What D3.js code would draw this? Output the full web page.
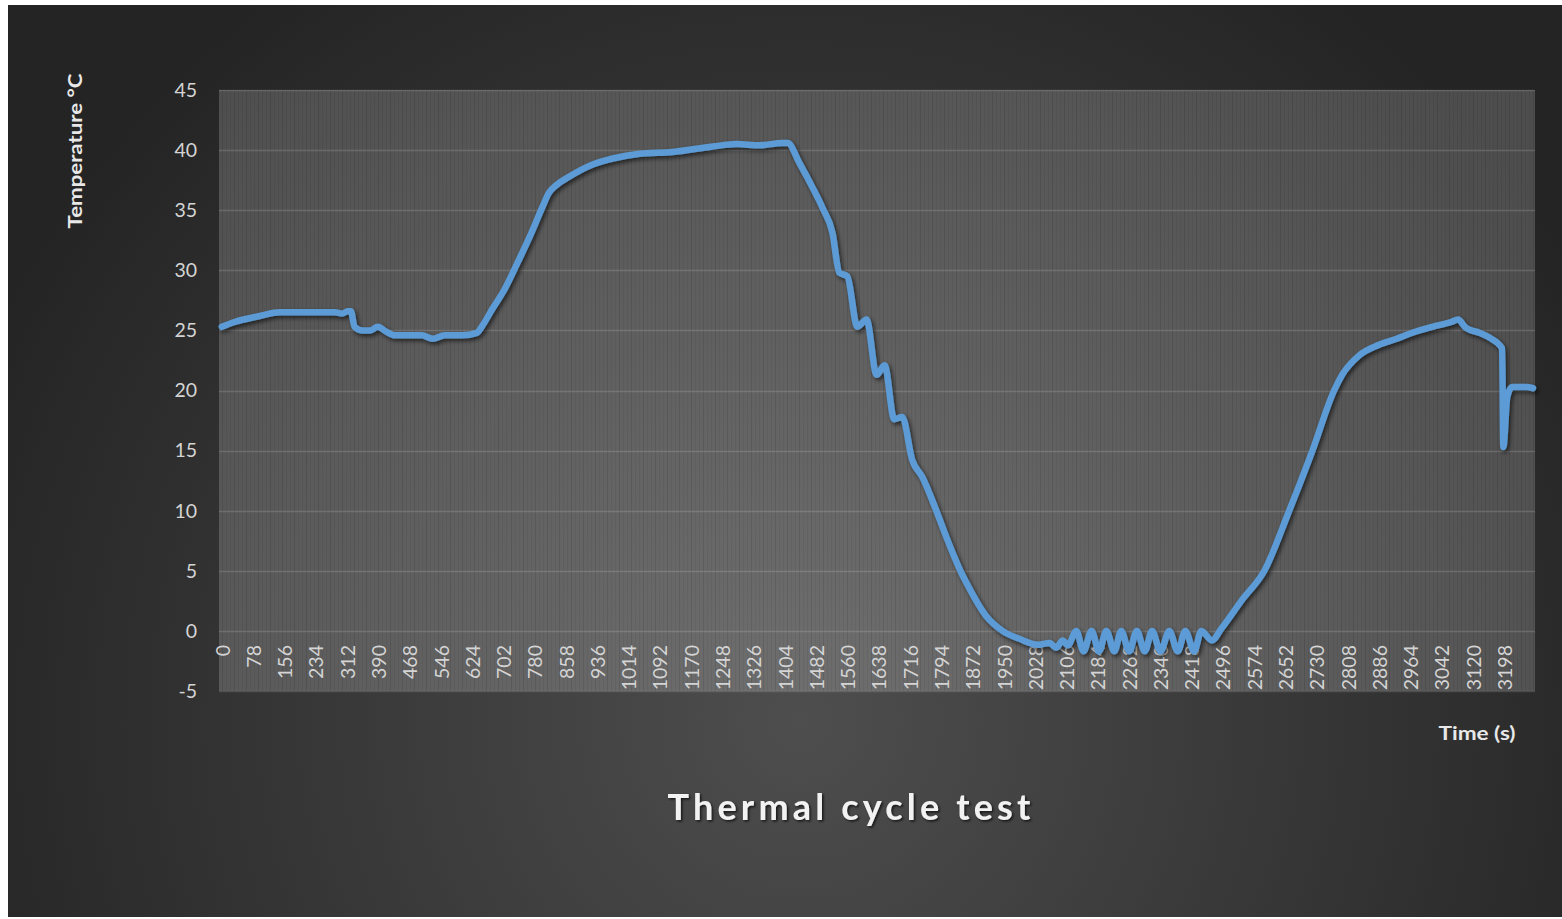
<!DOCTYPE html>
<html>
<head>
<meta charset="utf-8">
<script src="https://cdn.jsdelivr.net/npm/d3@7"></script>
<style>
  html, body { margin: 0; padding: 0; background: #fff; }
  svg { display: block; }
</style>
</head>
<body>
<div id="chart"></div>
<script>
// time (s) and temperature (°C)
const times = [
  0, 32, 95, 145, 200, 282, 300, 314, 322, 331, 349, 370, 389, 410, 431,
  470, 498, 526, 556, 600, 636, 650, 675, 705, 740, 768, 800, 815, 835,
  867, 925, 975, 1042, 1124, 1224, 1284, 1341, 1398, 1411, 1441, 1473,
  1498, 1523, 1540, 1560, 1585, 1608, 1633, 1653, 1677, 1697, 1722, 1747,
  1782, 1807, 1842, 1857, 1907, 1947, 1992, 2036, 2064, 2081, 2097, 2110,
  2131, 2149, 2169, 2188, 2206, 2226, 2243, 2263, 2282, 2302, 2320, 2341,
  2363, 2384, 2403, 2425, 2443, 2469, 2493, 2545, 2600, 2662, 2720,
  2774, 2794, 2836, 2886, 2930, 2969, 3019, 3066, 3083, 3103, 3136, 3161,
  3193, 3196, 3206, 3218, 3253, 3270
];
const temps = [
  25.3, 25.7, 26.2, 26.5, 26.5, 26.5, 26.4, 26.6, 26.6, 25.3, 25.0, 25.0, 25.3, 24.9, 24.6,
  24.6, 24.6, 24.3, 24.6, 24.6, 24.8, 25.4, 26.8, 28.4, 30.8, 32.8, 35.3, 36.4, 37.1,
  37.8, 38.8, 39.3, 39.7, 39.85, 40.3, 40.5, 40.4, 40.6, 40.6, 38.9, 36.9,
  35.2, 33.1, 29.8, 29.5, 25.3, 25.9, 21.3, 22.1, 17.6, 17.8, 14.2, 12.8,
  10.0, 7.8, 5.0, 4.0, 1.2, 0.0, -0.7, -1.15, -1.0, -1.4, -0.8, -1.2,
  0.0, -1.7, 0.0, -1.7, 0.0, -1.7, 0.0, -1.7, 0.0, -1.7, 0.0, -1.7,
  0.0, -1.7, 0.0, -1.7, 0.0, -0.8, 0.2, 2.6, 5.0, 10.0, 15.0,
  20.0, 21.3, 22.9, 23.8, 24.3, 24.8, 25.3, 25.7, 25.9, 25.2, 24.8, 24.4,
  23.5, 15.3, 19.5, 20.3, 20.3, 20.2
];
const xTicks = d3.range(0, 3199, 78);
const yTicks = [-5, 0, 5, 10, 15, 20, 25, 30, 35, 40, 45];
const title = 'Thermal cycle test';
const xTitle = 'Time (s)';
const yTitle = 'Temperature °C';

const W = 1562, H = 919;
const margin = {top: 90, left: 219, right: 27, bottom: 228};
const width = W - margin.left - margin.right;
const height = H - margin.top - margin.bottom;

const svg = d3.select('#chart').append('svg')
    .attr('width', W)
    .attr('height', H);

const defs = svg.append('defs');

const bg = defs.append('radialGradient')
    .attr('id', 'bg')
    .attr('gradientUnits', 'userSpaceOnUse')
    .attr('cx', 800).attr('cy', 720).attr('r', 900);
bg.append('stop').attr('offset', 0).attr('stop-color', '#4e4e4e');
bg.append('stop').attr('offset', 1).attr('stop-color', '#242424');

defs.append('filter')
    .attr('id', 'shadow')
    .attr('x', '-5%').attr('y', '-5%').attr('width', '110%').attr('height', '110%')
  .append('feDropShadow')
    .attr('dx', 2).attr('dy', 2.5).attr('stdDeviation', 2)
    .attr('flood-color', '#000').attr('flood-opacity', 0.6);

defs.append('filter')
    .attr('id', 'textShadow')
  .append('feDropShadow')
    .attr('dx', 1.5).attr('dy', 1.5).attr('stdDeviation', 1.2)
    .attr('flood-color', '#000').attr('flood-opacity', 0.7);

svg.append('rect')
    .attr('x', 8).attr('y', 5)
    .attr('width', W - 8).attr('height', H - 7)
    .attr('fill', 'url(#bg)');

const x = d3.scaleLinear()
    .domain([-7, 3275])
    .range([0, width]);

const y = d3.scaleLinear()
    .domain([-5, 45])
    .range([height, 0]);

const g = svg.append('g')
    .attr('transform', `translate(${margin.left},${margin.top})`);

// plot area
g.append('rect')
    .attr('width', width)
    .attr('height', height)
    .attr('fill', '#fff')
    .attr('fill-opacity', 0.19);

// dense vertical gridlines (rendered as a fine stripe texture)
g.append('g')
  .selectAll('line')
  .data(d3.range(0, 3275, 10))
  .join('line')
    .attr('x1', d => Math.round(x(d)) + 0.5)
    .attr('x2', d => Math.round(x(d)) + 0.5)
    .attr('y1', 0)
    .attr('y2', height)
    .attr('stroke', '#000')
    .attr('stroke-opacity', d => d % 30 === 0 ? 0.1 : 0.05);

g.append('g')
  .selectAll('line')
  .data(yTicks)
  .join('line')
    .attr('x1', 0)
    .attr('x2', width)
    .attr('y1', d => Math.round(y(d)) + 0.5)
    .attr('y2', d => Math.round(y(d)) + 0.5)
    .attr('stroke', '#fff')
    .attr('stroke-opacity', 0.14)
    .attr('stroke-width', 1.5);

// y tick labels
g.append('g')
  .selectAll('text')
  .data(yTicks)
  .join('text')
    .attr('x', -22)
    .attr('y', d => y(d))
    .attr('dy', '0.35em')
    .attr('text-anchor', 'end')
    .attr('font-family', 'Lato, sans-serif')
    .attr('font-size', 19.5)
    .attr('fill', '#d4d4d4')
    .text(d => d);

// x tick labels, rotated
g.append('g')
  .selectAll('text')
  .data(xTicks)
  .join('text')
    .attr('transform', d => `translate(${x(d) + 1},${height - 46}) rotate(-90)`)
    .attr('dy', '0.35em')
    .attr('text-anchor', 'end')
    .attr('font-family', 'Lato, sans-serif')
    .attr('font-size', 19.5)
    .attr('fill', '#d4d4d4')
    .text(d => d);

const line = d3.line()
    .x(d => x(d[0]))
    .y(d => y(d[1]))
    .curve(d3.curveMonotoneX);

g.append('path')
    .datum(d3.zip(times, temps))
    .attr('d', line)
    .attr('fill', 'none')
    .attr('stroke', '#5b9bd5')
    .attr('stroke-width', 6.5)
    .attr('stroke-linejoin', 'round')
    .attr('stroke-linecap', 'round')
    .attr('filter', 'url(#shadow)');

// axis titles
svg.append('text')
    .attr('transform', 'translate(82,151) rotate(-90)')
    .attr('text-anchor', 'middle')
    .attr('font-family', 'Lato, sans-serif')
    .attr('font-weight', 'bold')
    .attr('font-size', 19)
    .attr('fill', '#e8e8e8')
    .attr('textLength', 155)
    .attr('lengthAdjust', 'spacingAndGlyphs')
    .text(yTitle);

svg.append('text')
    .attr('x', 1477)
    .attr('y', 740)
    .attr('text-anchor', 'middle')
    .attr('font-family', 'Lato, sans-serif')
    .attr('font-weight', 'bold')
    .attr('font-size', 19.5)
    .attr('fill', '#e8e8e8')
    .attr('textLength', 77)
    .attr('lengthAdjust', 'spacingAndGlyphs')
    .text(xTitle);

svg.append('text')
    .attr('x', 849)
    .attr('y', 820)
    .attr('text-anchor', 'middle')
    .attr('font-family', 'Lato, sans-serif')
    .attr('font-weight', 'bold')
    .attr('font-size', 36)
    .attr('fill', '#f2f2f2')
    .attr('textLength', 363)
    .attr('lengthAdjust', 'spacing')
    .attr('filter', 'url(#textShadow)')
    .text(title);
</script>
</body>
</html>
